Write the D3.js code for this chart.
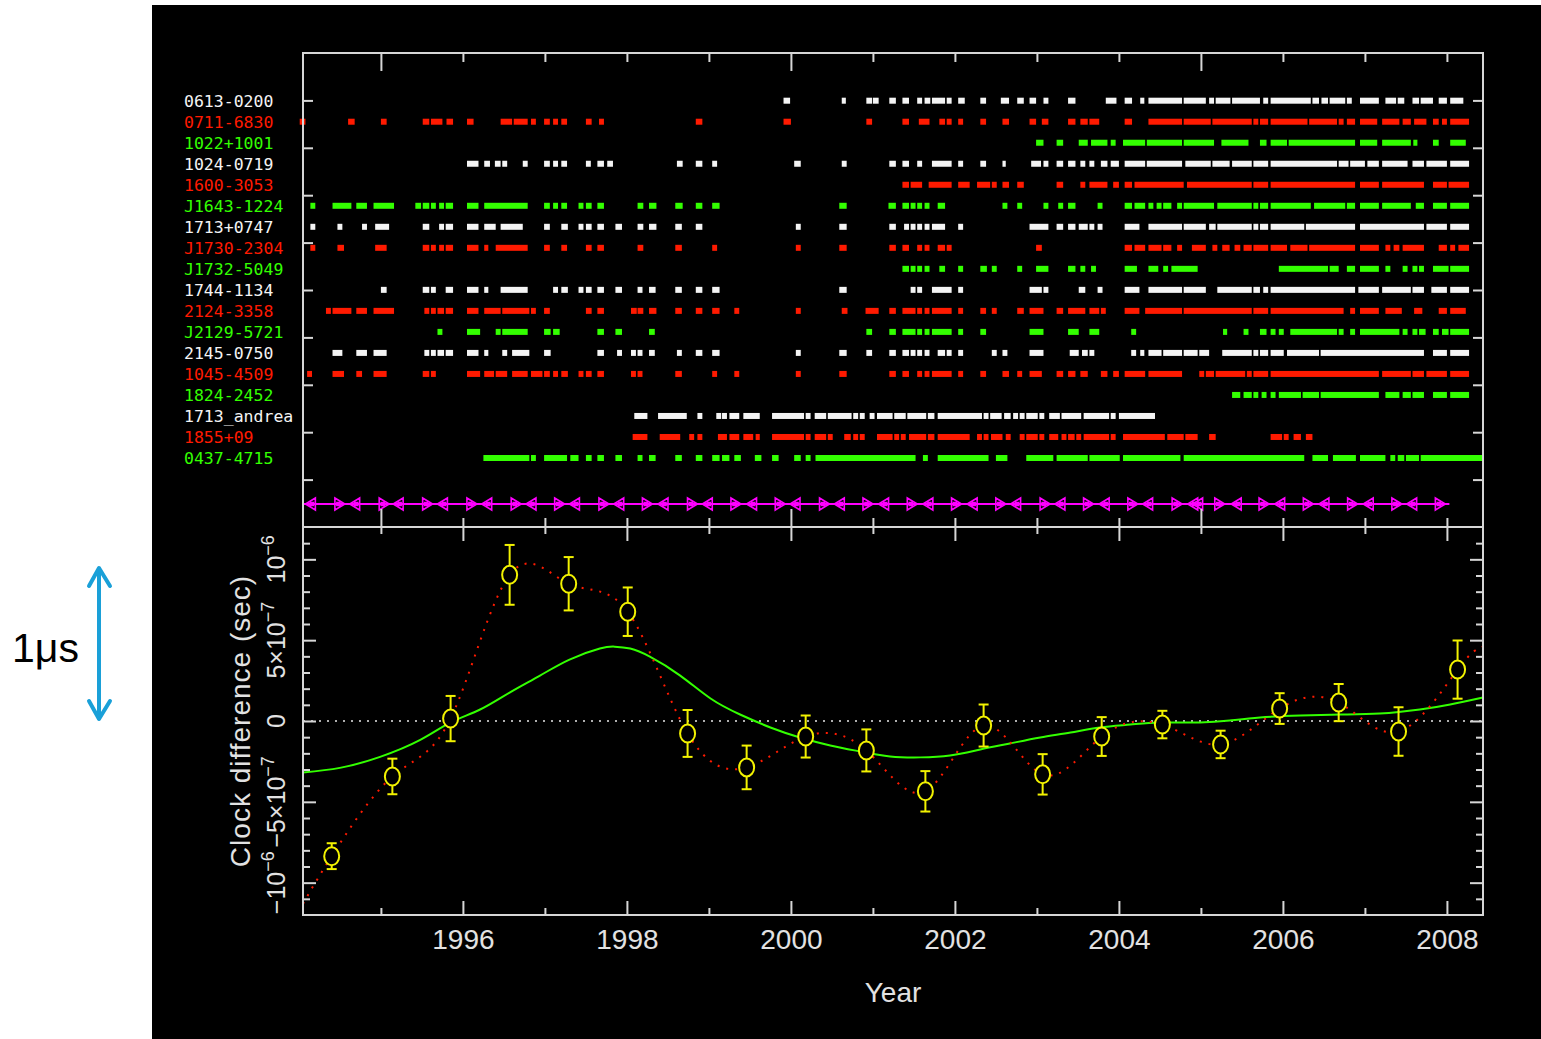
<!DOCTYPE html>
<html>
<head>
<meta charset="utf-8">
<script src="https://cdn.jsdelivr.net/npm/d3@7"></script>
<style>
  body { margin: 0; background: #fff; }
  svg { display: block; }
</style>
</head>
<body>
<div id="chart"></div>
<script>
/** DATA **/
// Pulsars, top to bottom
const pulsarNames = [
  '0613-0200', '0711-6830', '1022+1001', '1024-0719', '1600-3053', 'J1643-1224',
  '1713+0747', 'J1730-2304', 'J1732-5049', '1744-1134', '2124-3358', 'J2129-5721',
  '2145-0750', '1045-4509', '1824-2452', '1713_andrea', '1855+09', '0437-4715'
];

// Observing spans per pulsar, [start, end] in decimal years
const obs0613 = [[1999.91,1999.99],[2000.62,2000.67],[2000.92,2000.99],[2001.00,2001.07],[2001.20,2001.28],[2001.36,2001.44],[2001.54,2001.60],[2001.63,2001.70],[2001.72,2001.88],[2001.90,2001.96],[2002.04,2002.12],[2002.31,2002.38],[2002.56,2002.66],[2002.76,2002.84],[2002.91,2002.99],[2003.08,2003.14],[2003.38,2003.47],[2003.84,2003.97],[2004.07,2004.16],[2004.26,2004.31],[2004.36,2004.77],[2004.79,2005.06],[2005.10,2005.16],[2005.18,2005.36],[2005.38,2005.72],[2005.76,2005.82],[2005.85,2006.34],[2006.36,2006.44],[2006.47,2006.55],[2006.57,2006.76],[2006.78,2006.84],[2006.94,2007.17],[2007.25,2007.38],[2007.40,2007.48],[2007.58,2007.66],[2007.68,2007.83],[2007.90,2008.00],[2008.04,2008.20]];
const obs0711 = [[1994.01,1994.08],[1994.60,1994.68],[1995.00,1995.07],[1995.51,1995.59],[1995.61,1995.75],[1995.80,1995.88],[1996.05,1996.13],[1996.46,1996.60],[1996.62,1996.79],[1996.83,1996.89],[1996.99,1997.06],[1997.10,1997.16],[1997.20,1997.27],[1997.50,1997.57],[1997.66,1997.72],[1998.84,1998.92],[1999.91,2000.00],[2000.92,2000.99],[2001.36,2001.44],[2001.56,2001.69],[2001.81,2001.88],[2001.90,2001.96],[2002.04,2002.10],[2002.31,2002.38],[2002.58,2002.66],[2002.91,2002.99],[2003.06,2003.14],[2003.38,2003.47],[2003.53,2003.62],[2003.64,2003.76],[2004.07,2004.16],[2004.36,2004.77],[2004.79,2005.12],[2005.14,2005.62],[2005.64,2005.70],[2005.72,2005.82],[2005.85,2006.30],[2006.32,2006.66],[2006.68,2006.74],[2006.78,2006.88],[2006.94,2007.15],[2007.21,2007.42],[2007.46,2007.56],[2007.60,2007.75],[2007.83,2007.90],[2007.94,2008.00],[2008.04,2008.27]];
const obs1022 = [[2002.99,2003.08],[2003.24,2003.32],[2003.51,2003.62],[2003.66,2003.86],[2003.90,2003.96],[2004.05,2004.32],[2004.34,2004.77],[2004.79,2005.16],[2005.25,2005.58],[2005.72,2005.80],[2005.85,2006.05],[2006.07,2006.88],[2006.94,2007.15],[2007.21,2007.56],[2007.59,2007.64],[2007.83,2007.90],[2008.04,2008.23]];
const obs1024 = [[1996.05,1996.19],[1996.26,1996.33],[1996.39,1996.46],[1996.48,1996.54],[1996.73,1996.79],[1996.99,1997.06],[1997.10,1997.16],[1997.20,1997.27],[1997.50,1997.56],[1997.64,1997.72],[1997.76,1997.83],[1998.61,1998.68],[1998.84,1998.92],[1999.04,1999.10],[2000.04,2000.12],[2000.62,2000.68],[2001.20,2001.28],[2001.36,2001.44],[2001.54,2001.60],[2001.72,2001.96],[2002.04,2002.10],[2002.31,2002.38],[2002.58,2002.62],[2002.93,2003.05],[2003.08,2003.14],[2003.24,2003.32],[2003.38,2003.47],[2003.53,2003.59],[2003.64,2003.70],[2003.78,2003.86],[2003.90,2004.00],[2004.07,2004.32],[2004.34,2004.77],[2004.81,2005.12],[2005.14,2005.35],[2005.38,2005.62],[2005.64,2005.82],[2005.85,2006.66],[2006.68,2006.80],[2006.82,2007.00],[2007.03,2007.17],[2007.21,2007.52],[2007.58,2007.72],[2007.75,2008.00],[2008.04,2008.27]];
const obs1600 = [[2001.36,2001.44],[2001.46,2001.60],[2001.68,2001.96],[2002.04,2002.18],[2002.27,2002.43],[2002.45,2002.51],[2002.58,2002.66],[2002.76,2002.84],[2003.24,2003.32],[2003.53,2003.59],[2003.64,2003.86],[2003.93,2004.00],[2004.07,2004.16],[2004.19,2004.79],[2004.83,2005.62],[2005.64,2005.82],[2005.85,2006.88],[2006.94,2007.17],[2007.21,2007.72],[2007.83,2008.00],[2008.02,2008.27]];
const obs1643 = [[1994.14,1994.20],[1994.41,1994.64],[1994.70,1994.83],[1994.91,1995.16],[1995.42,1995.49],[1995.51,1995.59],[1995.61,1995.67],[1995.71,1995.77],[1995.79,1995.88],[1996.05,1996.19],[1996.26,1996.79],[1996.99,1997.06],[1997.10,1997.16],[1997.20,1997.27],[1997.41,1997.47],[1997.50,1997.57],[1997.64,1997.72],[1998.13,1998.20],[1998.27,1998.36],[1998.59,1998.68],[1998.84,1998.92],[1999.04,1999.13],[2000.59,2000.68],[2001.19,2001.28],[2001.36,2001.44],[2001.46,2001.52],[2001.54,2001.60],[2001.63,2001.69],[2001.79,2001.88],[2002.58,2002.64],[2002.76,2002.82],[2003.08,2003.14],[2003.26,2003.32],[2003.38,2003.47],[2003.74,2003.80],[2004.07,2004.16],[2004.19,2004.32],[2004.36,2004.42],[2004.46,2004.52],[2004.54,2004.64],[2004.71,2004.77],[2004.79,2005.16],[2005.20,2005.62],[2005.64,2005.70],[2005.72,2005.82],[2005.85,2006.34],[2006.38,2006.76],[2006.78,2006.88],[2006.94,2007.17],[2007.21,2007.56],[2007.62,2007.72],[2007.83,2008.00],[2008.04,2008.27]];
const obs1713 = [[1994.14,1994.20],[1994.47,1994.53],[1994.77,1994.83],[1994.93,1995.10],[1995.51,1995.59],[1995.71,1995.77],[1995.79,1995.88],[1996.05,1996.19],[1996.26,1996.40],[1996.46,1996.73],[1996.99,1997.06],[1997.20,1997.28],[1997.41,1997.47],[1997.50,1997.57],[1997.64,1997.72],[1997.86,1997.94],[1998.13,1998.20],[1998.27,1998.36],[1998.59,1998.67],[1998.84,1998.92],[2000.06,2000.12],[2000.59,2000.68],[2001.20,2001.28],[2001.38,2001.44],[2001.46,2001.52],[2001.54,2001.60],[2001.63,2001.69],[2001.72,2001.88],[2002.04,2002.10],[2002.91,2003.14],[2003.24,2003.32],[2003.38,2003.47],[2003.51,2003.62],[2003.64,2003.70],[2003.74,2003.80],[2004.07,2004.25],[2004.36,2004.77],[2004.79,2005.06],[2005.10,2005.18],[2005.20,2005.62],[2005.64,2005.70],[2005.72,2005.82],[2005.85,2006.26],[2006.28,2006.88],[2006.94,2007.72],[2007.75,2008.00],[2008.04,2008.27]];
const obs1730 = [[1994.14,1994.20],[1994.47,1994.55],[1994.93,1995.07],[1995.51,1995.59],[1995.61,1995.67],[1995.71,1995.77],[1995.79,1995.88],[1996.05,1996.19],[1996.26,1996.31],[1996.40,1996.79],[1996.99,1997.06],[1997.20,1997.27],[1997.50,1997.57],[1997.64,1997.72],[1998.13,1998.20],[1998.59,1998.67],[1999.04,1999.10],[2000.06,2000.12],[2000.59,2000.68],[2001.20,2001.28],[2001.36,2001.44],[2001.54,2001.60],[2001.63,2001.69],[2001.79,2001.88],[2001.90,2001.96],[2002.99,2003.06],[2004.07,2004.16],[2004.19,2004.32],[2004.36,2004.52],[2004.54,2004.64],[2004.71,2004.77],[2004.89,2005.06],[2005.14,2005.20],[2005.26,2005.35],[2005.41,2005.48],[2005.52,2005.62],[2005.64,2005.82],[2005.85,2006.05],[2006.09,2006.30],[2006.32,2006.88],[2006.94,2007.17],[2007.25,2007.31],[2007.35,2007.42],[2007.46,2007.72],[2007.90,2008.00],[2008.04,2008.10],[2008.14,2008.27]];
const obs1732 = [[2001.36,2001.44],[2001.46,2001.52],[2001.54,2001.60],[2001.63,2001.69],[2001.81,2001.88],[2002.04,2002.10],[2002.31,2002.39],[2002.45,2002.51],[2002.76,2002.82],[2002.99,2003.14],[2003.38,2003.47],[2003.53,2003.59],[2003.66,2003.72],[2004.07,2004.22],[2004.36,2004.48],[2004.54,2004.60],[2004.64,2004.96],[2005.95,2006.55],[2006.57,2006.68],[2006.78,2006.88],[2006.94,2007.17],[2007.25,2007.31],[2007.46,2007.52],[2007.58,2007.64],[2007.66,2007.72],[2007.83,2008.02],[2008.04,2008.27]];
const obs1744 = [[1995.00,1995.07],[1995.51,1995.59],[1995.61,1995.67],[1995.79,1995.88],[1996.05,1996.19],[1996.26,1996.31],[1996.46,1996.79],[1997.10,1997.16],[1997.20,1997.28],[1997.41,1997.47],[1997.50,1997.57],[1997.64,1997.72],[1997.86,1997.94],[1998.13,1998.19],[1998.27,1998.35],[1998.59,1998.67],[1998.84,1998.92],[1999.04,1999.13],[2000.59,2000.68],[2001.46,2001.52],[2001.54,2001.60],[2001.72,2001.96],[2002.04,2002.10],[2002.91,2003.06],[2003.08,2003.14],[2003.51,2003.59],[2003.74,2003.80],[2004.07,2004.25],[2004.36,2004.77],[2004.79,2005.06],[2005.20,2005.62],[2005.64,2005.72],[2005.76,2005.82],[2005.85,2006.88],[2006.92,2007.17],[2007.21,2007.56],[2007.58,2007.72],[2007.81,2008.00],[2008.04,2008.27]];
const obs2124 = [[1994.33,1994.39],[1994.41,1994.64],[1994.70,1994.83],[1994.91,1995.16],[1995.53,1995.59],[1995.61,1995.67],[1995.69,1995.77],[1995.79,1995.88],[1996.05,1996.19],[1996.26,1996.46],[1996.48,1996.81],[1996.83,1996.89],[1996.99,1997.06],[1997.50,1997.57],[1997.64,1997.72],[1998.05,1998.12],[1998.13,1998.20],[1998.27,1998.36],[1998.59,1998.67],[1998.84,1998.92],[1999.04,1999.13],[1999.31,1999.37],[2000.06,2000.12],[2000.62,2000.69],[2000.91,2001.07],[2001.20,2001.28],[2001.36,2001.52],[2001.54,2001.60],[2001.63,2001.69],[2001.72,2001.96],[2002.04,2002.10],[2002.31,2002.38],[2002.45,2002.51],[2002.76,2002.84],[2002.91,2003.08],[2003.24,2003.32],[2003.38,2003.59],[2003.64,2003.76],[2003.78,2003.84],[2004.07,2004.25],[2004.32,2004.77],[2004.79,2005.62],[2005.64,2005.82],[2005.85,2006.74],[2006.82,2006.88],[2006.94,2007.17],[2007.25,2007.45],[2007.60,2007.70],[2007.90,2008.00],[2008.04,2008.23]];
const obs2129 = [[1995.69,1995.75],[1996.05,1996.21],[1996.40,1996.46],[1996.48,1996.79],[1996.99,1997.07],[1997.10,1997.18],[1997.64,1997.72],[1997.86,1997.94],[1998.27,1998.34],[2000.92,2000.99],[2001.20,2001.28],[2001.36,2001.52],[2001.54,2001.60],[2001.63,2001.69],[2001.72,2001.96],[2002.04,2002.10],[2002.31,2002.38],[2002.91,2003.08],[2003.38,2003.51],[2003.64,2003.76],[2004.15,2004.21],[2005.27,2005.32],[2005.52,2005.58],[2005.72,2005.80],[2005.85,2005.91],[2005.95,2006.01],[2006.09,2006.66],[2006.68,2006.74],[2006.82,2006.88],[2006.94,2007.42],[2007.46,2007.52],[2007.58,2007.64],[2007.66,2007.74],[2007.83,2007.90],[2007.94,2008.02],[2008.04,2008.27]];
const obs2145 = [[1994.41,1994.53],[1994.70,1994.83],[1994.91,1995.07],[1995.53,1995.59],[1995.61,1995.67],[1995.69,1995.77],[1995.79,1995.88],[1996.05,1996.19],[1996.26,1996.31],[1996.48,1996.54],[1996.60,1996.81],[1996.99,1997.07],[1997.64,1997.72],[1997.88,1997.94],[1998.05,1998.11],[1998.13,1998.19],[1998.27,1998.34],[1998.61,1998.67],[1998.84,1998.92],[1999.04,1999.13],[2000.06,2000.12],[2000.59,2000.68],[2000.92,2000.99],[2001.20,2001.28],[2001.36,2001.44],[2001.46,2001.52],[2001.54,2001.60],[2001.63,2001.69],[2001.79,2001.88],[2001.90,2001.96],[2002.04,2002.10],[2002.45,2002.51],[2002.58,2002.64],[2002.91,2003.08],[2003.40,2003.51],[2003.55,2003.62],[2003.64,2003.70],[2004.15,2004.21],[2004.26,2004.31],[2004.36,2004.52],[2004.54,2004.77],[2004.79,2004.96],[2004.98,2005.10],[2005.26,2005.62],[2005.64,2005.70],[2005.72,2005.82],[2005.85,2006.01],[2006.05,2006.44],[2006.46,2007.72],[2007.83,2008.00],[2008.04,2008.27]];
const obs1045 = [[1994.10,1994.16],[1994.41,1994.55],[1994.70,1994.77],[1994.91,1995.07],[1995.51,1995.59],[1995.61,1995.67],[1996.05,1996.21],[1996.26,1996.38],[1996.40,1996.54],[1996.60,1996.79],[1996.83,1996.97],[1996.99,1997.06],[1997.10,1997.16],[1997.20,1997.28],[1997.41,1997.47],[1997.50,1997.57],[1997.64,1997.72],[1998.05,1998.11],[1998.13,1998.19],[1998.59,1998.67],[1999.04,1999.10],[1999.31,1999.37],[2000.06,2000.12],[2000.59,2000.68],[2001.20,2001.28],[2001.36,2001.44],[2001.54,2001.60],[2001.63,2001.69],[2001.72,2001.96],[2002.04,2002.10],[2002.31,2002.38],[2002.58,2002.66],[2002.76,2002.82],[2002.91,2003.06],[2003.24,2003.32],[2003.38,2003.47],[2003.53,2003.62],[2003.78,2003.86],[2003.93,2004.00],[2004.07,2004.32],[2004.36,2004.77],[2004.98,2005.04],[2005.06,2005.16],[2005.18,2005.54],[2005.56,2005.62],[2005.64,2005.82],[2005.85,2007.17],[2007.21,2007.56],[2007.58,2007.72],[2007.75,2008.00],[2008.04,2008.27]];
const obs1824 = [[2005.38,2005.48],[2005.52,2005.62],[2005.64,2005.70],[2005.74,2005.80],[2005.85,2005.91],[2005.95,2006.22],[2006.24,2006.44],[2006.46,2007.17],[2007.25,2007.42],[2007.46,2007.56],[2007.58,2007.72],[2007.83,2008.00],[2008.04,2008.27]];
const obsAndrea = [[1998.09,1998.25],[1998.38,1998.73],[1998.86,1998.92],[1999.09,1999.15],[1999.16,1999.22],[1999.25,1999.37],[1999.42,1999.62],[1999.77,2000.16],[2000.18,2000.24],[2000.29,2000.43],[2000.45,2000.74],[2000.76,2000.82],[2000.84,2000.90],[2000.96,2001.02],[2001.05,2001.24],[2001.26,2001.40],[2001.42,2001.65],[2001.67,2001.75],[2001.79,2002.33],[2002.35,2002.41],[2002.43,2002.57],[2002.60,2002.68],[2002.71,2002.77],[2002.79,2002.85],[2002.87,2003.01],[2003.03,2003.09],[2003.15,2003.28],[2003.30,2003.54],[2003.57,2003.88],[2003.90,2003.96],[2004.00,2004.44]];
const obs1855 = [[1998.07,1998.25],[1998.40,1998.65],[1998.76,1998.82],[1998.86,1998.92],[1999.11,1999.22],[1999.25,1999.37],[1999.42,1999.54],[1999.57,1999.62],[1999.77,2000.16],[2000.18,2000.24],[2000.29,2000.43],[2000.45,2000.51],[2000.65,2000.73],[2000.76,2000.82],[2000.84,2000.90],[2001.05,2001.24],[2001.26,2001.32],[2001.34,2001.40],[2001.44,2001.65],[2001.67,2001.75],[2001.79,2002.18],[2002.27,2002.33],[2002.35,2002.41],[2002.44,2002.58],[2002.62,2002.68],[2002.79,2002.85],[2002.87,2003.01],[2003.03,2003.09],[2003.15,2003.26],[2003.30,2003.36],[2003.38,2003.46],[2003.48,2003.54],[2003.57,2003.88],[2003.90,2003.96],[2004.05,2004.56],[2004.59,2004.79],[2004.81,2004.96],[2005.10,2005.18],[2005.85,2005.99],[2006.01,2006.07],[2006.13,2006.22],[2006.28,2006.36]];
const obs0437 = [[1996.25,1996.81],[1996.83,1996.89],[1996.99,1997.27],[1997.31,1997.41],[1997.50,1997.57],[1997.64,1997.72],[1997.86,1997.94],[1998.13,1998.19],[1998.27,1998.35],[1998.59,1998.67],[1998.84,1998.92],[1999.04,1999.13],[1999.16,1999.25],[1999.31,1999.39],[1999.56,1999.64],[1999.77,1999.85],[2000.04,2000.12],[2000.18,2000.24],[2000.30,2001.52],[2001.61,2001.67],[2001.79,2002.41],[2002.50,2002.64],[2002.87,2003.20],[2003.24,2003.62],[2003.64,2004.01],[2004.05,2004.75],[2004.79,2006.26],[2006.36,2006.55],[2006.61,2006.89],[2006.94,2007.25],[2007.31,2007.37],[2007.40,2007.48],[2007.50,2007.66],[2007.68,2008.44]];

const obsSegments = [obs0613, obs0711, obs1022, obs1024, obs1600, obs1643, obs1713, obs1730,
  obs1732, obs1744, obs2124, obs2129, obs2145, obs1045, obs1824, obsAndrea, obs1855, obs0437];

// Magenta ephemeris row: right and left pointing markers (years)
const ephemRight = [1994.50, 1995.04, 1995.57, 1996.11, 1996.65, 1997.18, 1997.72, 1998.25, 1998.80, 1999.33,
  1999.87, 2000.41, 2000.94, 2001.48, 2002.02, 2002.56, 2003.10, 2003.63, 2004.17, 2004.71, 2005.23,
  2005.77, 2006.31, 2006.85, 2007.39, 2007.92];
const ephemLeft = [1994.14, 1994.68, 1995.21, 1995.75, 1996.29, 1996.83, 1997.36, 1997.90, 1998.44, 1998.98,
  1999.52, 2000.05, 2000.59, 2001.13, 2001.67, 2002.21, 2002.74, 2003.28, 2003.82, 2004.35, 2004.90,
  2004.96, 2005.43, 2005.96, 2006.50, 2007.04, 2007.57];
const ephemSpan = [1994.05, 2008.03];

// Clock residuals (sec)
const residYears = [1994.40, 1995.14, 1995.85, 1996.57, 1997.29, 1998.01, 1998.74, 1999.46, 2000.18, 2000.92,
  2001.64, 2002.35, 2003.07, 2003.79, 2004.53, 2005.24, 2005.96, 2006.68, 2007.41, 2008.13];
const residValues = [-8.36e-7, -3.43e-7, 0.15e-7, 9.04e-7, 8.49e-7, 6.76e-7, -0.77e-7, -2.87e-7, -0.96e-7, -1.82e-7,
  -4.35e-7, -0.28e-7, -3.30e-7, -0.96e-7, -0.22e-7, -1.45e-7, 0.77e-7, 1.14e-7, -0.65e-7, 3.18e-7];
const residErrors = [0.8e-7, 1.1e-7, 1.4e-7, 1.85e-7, 1.65e-7, 1.5e-7, 1.45e-7, 1.35e-7, 1.3e-7, 1.3e-7,
  1.25e-7, 1.3e-7, 1.25e-7, 1.2e-7, 0.85e-7, 0.85e-7, 0.95e-7, 1.15e-7, 1.5e-7, 1.8e-7];

// Red dotted interpolation ends (outside the residual points)
const dotStart = [1994.05, -11.3e-7];
const dotEnd = [2008.44, 4.6e-7];

// Green smooth curve
const smoothYears = [1994.05, 1994.50, 1994.99, 1995.48, 1995.85, 1996.21, 1996.57, 1996.94, 1997.30, 1997.67,
  1997.85, 1998.04, 1998.28, 1998.65, 1999.02, 1999.38, 1999.75, 2000.11, 2000.48, 2000.84, 2001.21,
  2001.58, 2001.94, 2002.31, 2002.67, 2003.04, 2003.41, 2003.77, 2004.14, 2004.50, 2004.99, 2005.35,
  2005.72, 2006.21, 2006.70, 2007.18, 2007.67, 2008.04, 2008.44];
const smoothValues = [-3.18e-7, -2.90e-7, -2.22e-7, -1.17e-7, -0.09e-7, 0.71e-7, 1.76e-7, 2.81e-7, 3.80e-7, 4.48e-7,
  4.60e-7, 4.48e-7, 3.98e-7, 2.81e-7, 1.39e-7, 0.40e-7, -0.40e-7, -1.02e-7, -1.51e-7, -1.88e-7, -2.19e-7,
  -2.25e-7, -2.13e-7, -1.76e-7, -1.39e-7, -1.02e-7, -0.71e-7, -0.40e-7, -0.22e-7, -0.09e-7, -0.09e-7, 0.03e-7,
  0.22e-7, 0.34e-7, 0.40e-7, 0.46e-7, 0.71e-7, 1.02e-7, 1.45e-7];

// Axis ticks
const topMajorYears = [1995, 2000, 2005];
const topMinorYears = [1996, 1997, 1998, 1999, 2001, 2002, 2003, 2004, 2006, 2007, 2008];
const botMajorYears = [1996, 1998, 2000, 2002, 2004, 2006, 2008];
const botMinorYears = [1995, 1997, 1999, 2001, 2003, 2005, 2007];
const yMajor = [-1e-6, -5e-7, 0, 5e-7, 1e-6];
const yLabels = [['\u221210', '\u22126'], ['\u22125\u00d710', '\u22127'], ['0', ''], ['5\u00d710', '\u22127'], ['10', '\u22126']];

/** STYLE **/
const ROW_COLORS = ['#f4f4f4', '#ff1a00', '#33ff00'];
const AXIS_COLOR = '#d6d6d6';
const YELLOW = '#f2f200';
const MAGENTA = '#ff00ff';
const W = 1541, H = 1039;

let svg = d3.select('#chart').append('svg')
  .attr('width', W)
  .attr('height', H);

// black plot page
svg.append('rect')
  .attr('x', 152).attr('y', 5)
  .attr('width', W - 152).attr('height', H - 5)
  .attr('fill', '#000');

// set the ranges
let x = d3.scaleLinear().domain([1994.05, 2008.44]).range([303, 1483]);
let yRow = d3.scalePoint().domain(pulsarNames).range([100.7, 458]);
let yTop = d3.scaleLinear().domain([0, 10]).range([527, 53]);
let y = d3.scaleLinear().domain([-1.2e-6, 1.2e-6]).range([915, 527]);
const EPHEM_Y = 504;

/** TOP PANEL **/
pulsarNames.forEach(function (name, i) {
  svg.append('g').selectAll('rect')
    .data(obsSegments[i])
    .enter().append('rect')
    .attr('x', d => x(d[0]))
    .attr('y', yRow(name) - 3)
    .attr('width', d => Math.max(x(d[1]) - x(d[0]), 2))
    .attr('height', 6)
    .attr('fill', ROW_COLORS[i % 3]);
});

svg.append('g').selectAll('text')
  .data(pulsarNames)
  .enter().append('text')
  .attr('x', 184)
  .attr('y', d => yRow(d))
  .attr('dy', '0.36em')
  .attr('fill', (d, i) => ROW_COLORS[i % 3])
  .style('font-family', '"DejaVu Sans Mono", monospace')
  .style('font-size', '16.5px')
  .text(d => d);

// ephemeris line with markers
svg.append('line')
  .attr('x1', x(ephemSpan[0])).attr('x2', x(ephemSpan[1]))
  .attr('y1', EPHEM_Y).attr('y2', EPHEM_Y)
  .attr('stroke', MAGENTA).attr('stroke-width', 2);

svg.append('g').selectAll('path')
  .data(ephemRight)
  .enter().append('path')
  .attr('transform', d => `translate(${x(d)},${EPHEM_Y})`)
  .attr('d', 'M-5,-6L5,0L-5,6Z M-3,-1.5h3v3h-3Z')
  .attr('fill', 'none').attr('stroke', MAGENTA).attr('stroke-width', 1.6);

svg.append('g').selectAll('path')
  .data(ephemLeft)
  .enter().append('path')
  .attr('transform', d => `translate(${x(d)},${EPHEM_Y})`)
  .attr('d', 'M5,-6L-5,0L5,6Z M3,-1.5h-3v3h3Z')
  .attr('fill', 'none').attr('stroke', MAGENTA).attr('stroke-width', 1.6);

/** BOTTOM PANEL **/
// zero line
svg.append('line')
  .attr('x1', x.range()[0]).attr('x2', x.range()[1])
  .attr('y1', y(0)).attr('y2', y(0))
  .attr('stroke', '#e8e8e8').attr('stroke-width', 1.5)
  .attr('stroke-dasharray', '2,6');

// smooth model (green)
let smooth = smoothYears.map((d, i) => [d, smoothValues[i]]);
svg.append('path')
  .datum(smooth)
  .attr('fill', 'none')
  .attr('stroke', '#33ff00')
  .attr('stroke-width', 2)
  .attr('d', d3.line().curve(d3.curveNatural)
    .x(d => x(d[0]))
    .y(d => y(d[1])));

// interpolation through residuals (red dotted)
let dotted = [dotStart].concat(residYears.map((d, i) => [d, residValues[i]]), [dotEnd]);
svg.append('path')
  .datum(dotted)
  .attr('fill', 'none')
  .attr('stroke', '#ff1a00')
  .attr('stroke-width', 2)
  .attr('stroke-dasharray', '2,7')
  .attr('d', d3.line().curve(d3.curveNatural)
    .x(d => x(d[0]))
    .y(d => y(d[1])));

// residual points with error bars
let resid = residYears.map((d, i) => ({ t: d, v: residValues[i], e: residErrors[i] }));
let pts = svg.append('g').selectAll('g')
  .data(resid)
  .enter().append('g')
  .attr('stroke', YELLOW)
  .attr('stroke-width', 2)
  .attr('fill', 'none');

pts.append('line')
  .attr('x1', d => x(d.t)).attr('x2', d => x(d.t))
  .attr('y1', d => y(d.v + d.e)).attr('y2', d => y(d.v - d.e));
pts.append('line')
  .attr('x1', d => x(d.t) - 5).attr('x2', d => x(d.t) + 5)
  .attr('y1', d => y(d.v + d.e)).attr('y2', d => y(d.v + d.e));
pts.append('line')
  .attr('x1', d => x(d.t) - 5).attr('x2', d => x(d.t) + 5)
  .attr('y1', d => y(d.v - d.e)).attr('y2', d => y(d.v - d.e));
pts.append('ellipse')
  .attr('cx', d => x(d.t)).attr('cy', d => y(d.v))
  .attr('rx', 7.5).attr('ry', 9)
  .attr('fill', '#000');

/** AXES **/
function tickAxis (axis, transform) {
  let g = svg.append('g').attr('transform', transform).call(axis);
  g.select('.domain').remove();
  g.selectAll('line').attr('stroke', AXIS_COLOR).attr('stroke-width', 2);
  return g;
}

// top panel
tickAxis(d3.axisTop(x).tickValues(topMinorYears).tickSizeInner(-9).tickSizeOuter(0).tickFormat(''), 'translate(0,53)');
tickAxis(d3.axisTop(x).tickValues(topMajorYears).tickSizeInner(-18).tickSizeOuter(0).tickFormat(''), 'translate(0,53)');
tickAxis(d3.axisBottom(x).tickValues(topMinorYears).tickSizeInner(-9).tickSizeOuter(0).tickFormat(''), 'translate(0,527)');
tickAxis(d3.axisBottom(x).tickValues(topMajorYears).tickSizeInner(-18).tickSizeOuter(0).tickFormat(''), 'translate(0,527)');
tickAxis(d3.axisLeft(yTop).tickValues(d3.range(1, 10)).tickSizeInner(-10).tickSizeOuter(0).tickFormat(''), 'translate(303,0)');
tickAxis(d3.axisRight(yTop).tickValues(d3.range(1, 10)).tickSizeInner(-10).tickSizeOuter(0).tickFormat(''), 'translate(1483,0)');

// bottom panel
let yMinor = d3.range(-11, 12).filter(k => k % 5 !== 0).map(k => k * 1e-7);
tickAxis(d3.axisTop(x).tickValues(botMinorYears).tickSizeInner(-7).tickSizeOuter(0).tickFormat(''), 'translate(0,527)');
tickAxis(d3.axisTop(x).tickValues(botMajorYears).tickSizeInner(-14).tickSizeOuter(0).tickFormat(''), 'translate(0,527)');
tickAxis(d3.axisBottom(x).tickValues(botMinorYears).tickSizeInner(-7).tickSizeOuter(0).tickFormat(''), 'translate(0,915)');
let xLab = tickAxis(d3.axisBottom(x).tickValues(botMajorYears).tickSizeInner(-14).tickSizeOuter(0)
  .tickPadding(14).tickFormat(d3.format('d')), 'translate(0,915)');
xLab.attr('font-size', 28).attr('font-family', '"Liberation Sans", Arial, sans-serif');
xLab.selectAll('text').attr('fill', '#e2e2e2');

tickAxis(d3.axisLeft(y).tickValues(yMinor).tickSizeInner(-7).tickSizeOuter(0).tickFormat(''), 'translate(303,0)');
tickAxis(d3.axisLeft(y).tickValues(yMajor).tickSizeInner(-13).tickSizeOuter(0).tickFormat(''), 'translate(303,0)');
tickAxis(d3.axisRight(y).tickValues(yMinor).tickSizeInner(-7).tickSizeOuter(0).tickFormat(''), 'translate(1483,0)');
tickAxis(d3.axisRight(y).tickValues(yMajor).tickSizeInner(-13).tickSizeOuter(0).tickFormat(''), 'translate(1483,0)');

// frames
svg.append('rect')
  .attr('x', 303).attr('y', 53)
  .attr('width', 1483 - 303).attr('height', 915 - 53)
  .attr('fill', 'none').attr('stroke', AXIS_COLOR).attr('stroke-width', 2);
svg.append('line')
  .attr('x1', 303).attr('x2', 1483)
  .attr('y1', 527).attr('y2', 527)
  .attr('stroke', AXIS_COLOR).attr('stroke-width', 2);

// rotated y tick labels with exponents
yMajor.forEach(function (v, i) {
  let t = svg.append('text')
    .attr('transform', `translate(285,${y(v)}) rotate(-90)`)
    .attr('text-anchor', 'middle')
    .attr('fill', '#e2e2e2')
    .style('font-family', '"Liberation Sans", Arial, sans-serif')
    .style('font-size', '25px');
  t.append('tspan').text(yLabels[i][0]);
  if (yLabels[i][1]) {
    t.append('tspan').attr('dy', -11).style('font-size', '18px').text(yLabels[i][1]);
  }
});

// axis titles
svg.append('text')
  .attr('transform', `translate(250,${y(0)}) rotate(-90)`)
  .attr('text-anchor', 'middle')
  .attr('fill', '#e2e2e2')
  .style('font-family', '"Liberation Sans", Arial, sans-serif')
  .style('font-size', '28px')
  .style('letter-spacing', '1px')
  .text('Clock difference (sec)');

svg.append('text')
  .attr('x', 893).attr('y', 1002)
  .attr('text-anchor', 'middle')
  .attr('fill', '#e2e2e2')
  .style('font-family', '"Liberation Sans", Arial, sans-serif')
  .style('font-size', '28px')
  .text('Year');

/** 1 microsecond annotation **/
svg.append('text')
  .attr('x', 12).attr('y', 662)
  .attr('fill', '#000')
  .style('font-family', '"Liberation Sans", Arial, sans-serif')
  .style('font-size', '41px')
  .text('1\u03bcs');

let arrow = svg.append('g')
  .attr('stroke', '#1aa0d8')
  .attr('stroke-width', 4)
  .attr('stroke-linecap', 'round')
  .attr('stroke-linejoin', 'round')
  .attr('fill', 'none');
arrow.append('line').attr('x1', 99).attr('x2', 99).attr('y1', 569).attr('y2', 718);
arrow.append('polyline').attr('points', '89,586 99,568 110,586');
arrow.append('polyline').attr('points', '89,701 99,719 110,701');
</script>
</body>
</html>
